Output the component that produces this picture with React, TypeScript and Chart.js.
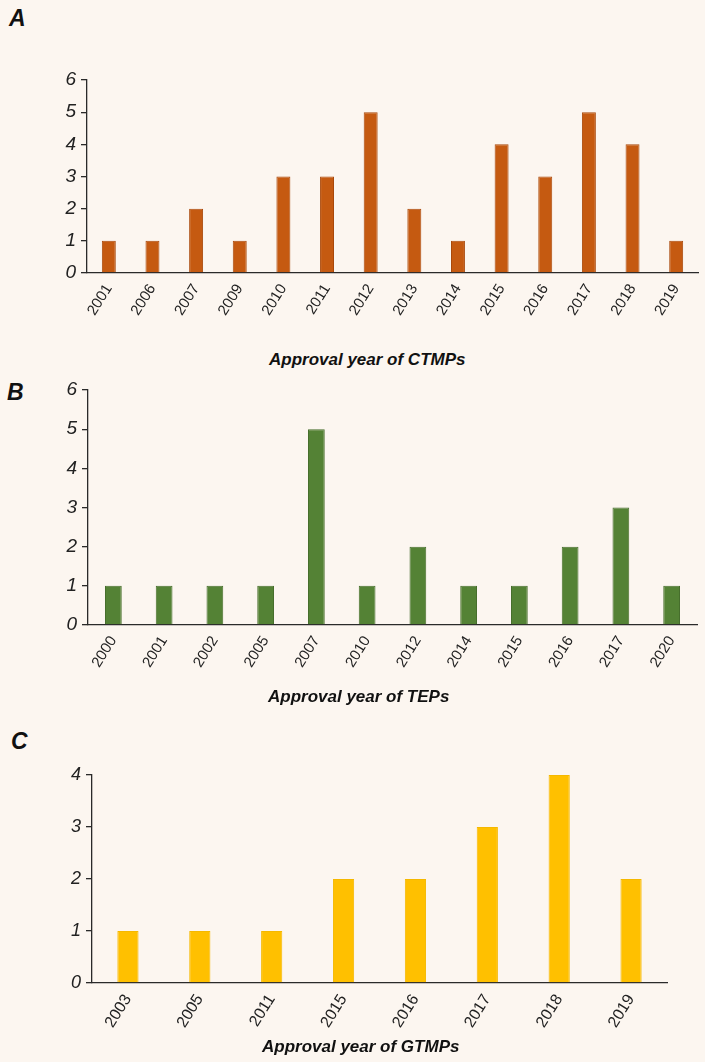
import React, { useEffect, useRef } from "react";
import { Chart, registerables } from "chart.js";

Chart.register(...registerables);

const ctmpYears = ["2001", "2006", "2007", "2009", "2010", "2011", "2012", "2013", "2014", "2015", "2016", "2017", "2018", "2019"];
const ctmpCounts = [1, 1, 2, 1, 3, 3, 5, 2, 1, 4, 3, 5, 4, 1];

const tepYears = ["2000", "2001", "2002", "2005", "2007", "2010", "2012", "2014", "2015", "2016", "2017", "2020"];
const tepCounts = [1, 1, 1, 1, 5, 1, 2, 1, 1, 2, 3, 1];

const gtmpYears = ["2003", "2005", "2011", "2015", "2016", "2017", "2018", "2019"];
const gtmpCounts = [1, 1, 1, 2, 2, 3, 4, 2];

const yMaxA = 6;
const yMaxB = 6;
const yMaxC = 4;

const FONT = "'Liberation Sans', Arial, sans-serif";
const BG = "#fcf6f0";
const AXIS = "#2a2a2a";

type PanelProps = {
  top: number;
  height: number;
  yWidth: number;
  padTop: number;
  padRight: number;
  xHeight: number;
  labels: string[];
  values: number[];
  color: string;
  border: string;
  yMax: number;
  barPct: number;
  xFont: number;
  yFont: number;
};

function Panel(p: PanelProps) {
  const ref = useRef<HTMLCanvasElement | null>(null);
  useEffect(() => {
    if (!ref.current) return;
    const chart = new Chart(ref.current, {
      type: "bar",
      data: {
        labels: p.labels,
        datasets: [
          {
            data: p.values,
            backgroundColor: p.color,
            borderColor: p.border,
            borderWidth: 1,
            categoryPercentage: 1,
            barPercentage: p.barPct,
          },
        ],
      },
      options: {
        animation: false,
        responsive: false,
        devicePixelRatio: 1,
        layout: { padding: { top: p.padTop, right: p.padRight, left: 0, bottom: 0 } },
        plugins: { legend: { display: false }, tooltip: { enabled: false }, title: { display: false } },
        scales: {
          x: {
            offset: true,
            grid: { display: false, drawTicks: false },
            border: { display: true, color: AXIS, width: 1.3 },
            ticks: {
              color: "#222",
              font: { family: FONT, size: p.xFont },
              minRotation: 58,
              maxRotation: 58,
              padding: 8,
              autoSkip: false,
            },
            afterFit: (s: any) => {
              s.height = p.xHeight;
            },
          },
          y: {
            min: 0,
            max: p.yMax,
            grid: { drawOnChartArea: false, drawTicks: true, tickLength: 6, color: AXIS, lineWidth: 1.3 },
            border: { display: true, color: AXIS, width: 1.3 },
            ticks: {
              stepSize: 1,
              color: "#222",
              padding: 5,
              font: { family: FONT, size: p.yFont, style: "italic" },
            },
            afterFit: (s: any) => {
              s.width = p.yWidth;
            },
          },
        },
      },
    });
    return () => chart.destroy();
  }, []);
  return (
    <canvas
      ref={ref}
      width={705}
      height={p.height}
      style={{ position: "absolute", left: 0, top: p.top, width: 705, height: p.height, display: "block" }}
    />
  );
}

const letterStyle: React.CSSProperties = {
  position: "absolute",
  fontFamily: FONT,
  fontWeight: "bold",
  fontStyle: "italic",
  fontSize: 23,
  lineHeight: "23px",
  color: "#111",
};

const titleStyle: React.CSSProperties = {
  position: "absolute",
  fontFamily: FONT,
  fontWeight: "bold",
  fontStyle: "italic",
  fontSize: 17,
  lineHeight: "18px",
  color: "#111",
  whiteSpace: "nowrap",
};

export default function App() {
  return (
    <div style={{ position: "absolute", left: 0, top: 0, width: 705, height: 1062, background: BG, overflow: "hidden" }}>
      <div style={{ ...letterStyle, left: 9, top: 7 }}>A</div>
      <Panel
        top={0}
        height={340}
        yWidth={87}
        padTop={80}
        padRight={7}
        xHeight={67}
        labels={ctmpYears}
        values={ctmpCounts}
        color="#c55a11"
        border="#a9490b"
        yMax={yMaxA}
        barPct={0.32}
        xFont={15}
        yFont={19}
      />
      <div style={{ ...titleStyle, left: 269, top: 351 }}>Approval year of CTMPs</div>

      <div style={{ ...letterStyle, left: 7, top: 381 }}>B</div>
      <Panel
        top={370}
        height={320}
        yWidth={88}
        padTop={20}
        padRight={8}
        xHeight={65}
        labels={tepYears}
        values={tepCounts}
        color="#548235"
        border="#466e2c"
        yMax={yMaxB}
        barPct={0.33}
        xFont={15}
        yFont={19}
      />
      <div style={{ ...titleStyle, left: 268, top: 688 }}>Approval year of TEPs</div>

      <div style={{ ...letterStyle, left: 11, top: 730 }}>C</div>
      <Panel
        top={755}
        height={285}
        yWidth={92}
        padTop={20}
        padRight={38}
        xHeight={57}
        labels={gtmpYears}
        values={gtmpCounts}
        color="#ffc000"
        border="#f5b800"
        yMax={yMaxC}
        barPct={0.295}
        xFont={16}
        yFont={18}
      />
      <div style={{ ...titleStyle, left: 262, top: 1038 }}>Approval year of GTMPs</div>
    </div>
  );
}
